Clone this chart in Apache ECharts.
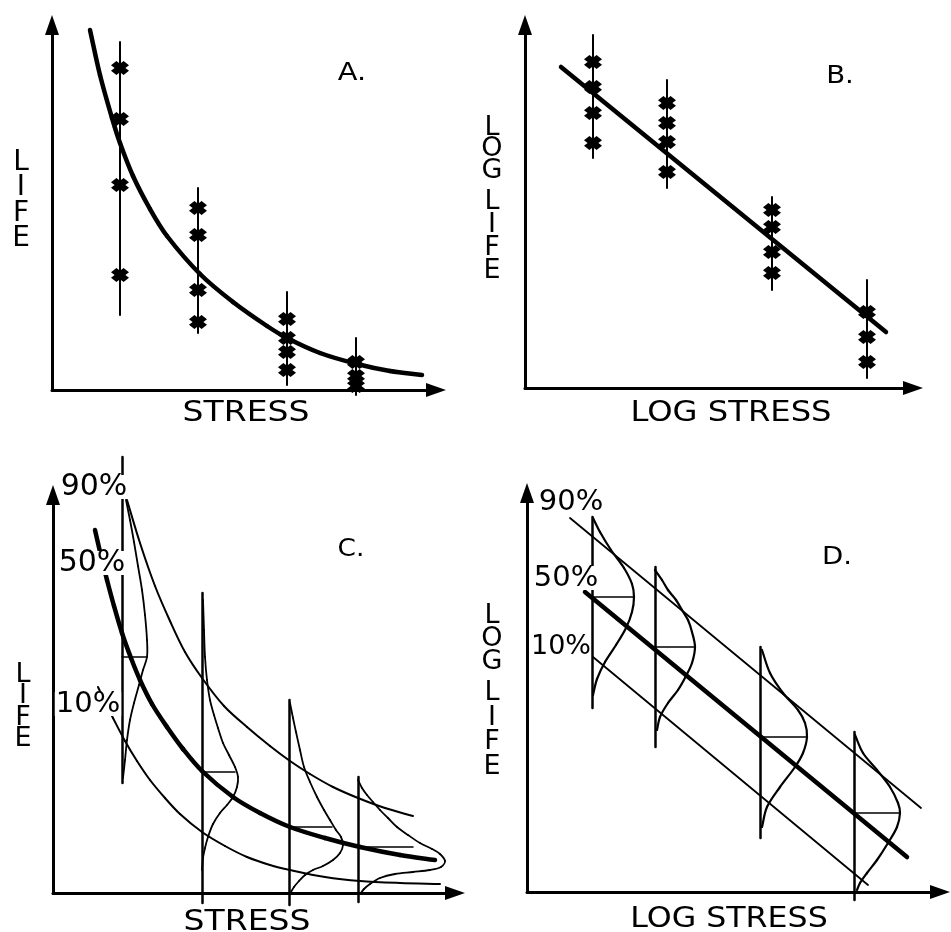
<!DOCTYPE html>
<html>
<head>
<meta charset="utf-8">
<title>Stress–life diagrams</title>
<script src="https://cdn.jsdelivr.net/npm/echarts@6/dist/echarts.min.js"></script>
<style>
  html, body { margin: 0; padding: 0; background: #fff; }
  #chart { width: 951px; height: 932px; }
</style>
</head>
<body>
<div id="chart"></div>
<script>
// ---------- A: life against stress, individual test results ----------
const curveA = [[3.8,36.0],[4.8,31.5],[6.0,27.2],[6.8,24.7],[8.1,21.4],[9.8,18.1],[11.5,15.4],[14.8,11.6],[18.1,8.8],[21.5,6.4],[23.5,5.2],[26.8,3.7],[30.5,2.6],[33.8,1.9],[37.0,1.5]];
const levelsA = [6.8, 14.6, 23.5, 30.4];
const spreadA = [[7.5,34.8],[5.7,20.2],[0.5,9.8],[-0.5,5.2]];
const resultsA = [[32.2,27.1,20.5,11.5],[18.2,15.5,10.0,6.8],[7.1,5.2,3.8,2.0],[2.8,1.4,0.4]];

// ---------- B: log life against log stress, straight-line fit ----------
const fitB = [[3.6,32.1],[36.1,5.6]];
const levelsB = [6.8, 14.2, 24.7, 34.2];
const spreadB = [[23.0,35.3],[20.0,30.8],[9.8,19.1],[1.0,10.8]];
const resultsB = [[32.6,30.1,27.5,24.5],[28.5,26.5,24.6,21.6],[17.8,16.1,13.6,11.5],[7.6,5.1,2.6]];

// ---------- C: probability curves on linear scales ----------
const p90C = [[7.4,39.3],[8.7,35.0],[10.2,30.7],[11.7,27.2],[13.2,24.1],[14.9,21.5],[17.1,18.7],[19.4,16.6],[21.7,14.7],[23.7,13.2],[25.7,11.9],[28.0,10.6],[30.5,9.5],[33.2,8.5],[36.0,7.7]];
const p50C = [[4.2,36.3],[4.8,33.7],[5.4,31.3],[6.1,28.7],[6.9,26.0],[7.8,23.5],[8.7,21.3],[9.9,18.9],[11.4,16.6],[13.0,14.4],[14.9,12.2],[18.0,9.6],[20.7,8.0],[23.7,6.6],[27.2,5.5],[30.7,4.6],[34.7,3.8],[38.2,3.3]];
const p10C = [[4.5,20.6],[5.3,18.9],[6.0,17.5],[7.2,15.2],[8.4,13.2],[9.7,11.3],[11.2,9.5],[12.7,7.9],[14.9,6.1],[17.2,4.7],[19.4,3.6],[21.7,2.8],[23.7,2.3],[27.2,1.6],[30.7,1.2],[34.7,1.0],[38.7,0.9]];
const levelsC = [6.9, 14.9, 23.6, 30.5];
const spanC = [[11.0,43.6],[-1.0,30.0],[-1.2,19.3],[-0.9,11.6]];
const modeC = [[23.6,9.4],[12.1,18.2],[6.6,27.9],[4.6,36.0]];
const distC1 = [[7.3,39.3],[7.7,37.3],[8.1,35.1],[8.5,32.7],[8.9,30.3],[9.2,27.8],[9.4,25.3],[9.4,23.6],[9.0,22.3],[8.6,20.8],[8.1,19.0],[7.7,17.3],[7.4,15.3],[7.2,13.3],[7.0,11.5]];
const distC2 = [[15.0,29.3],[15.1,26.3],[15.2,23.6],[15.4,21.3],[15.7,19.3],[16.1,17.8],[16.5,16.5],[17.0,15.0],[17.6,13.8],[18.2,12.6],[18.5,11.6],[18.4,10.6],[18.0,9.6],[17.4,8.8],[16.7,8.0],[16.0,6.9],[15.5,5.6],[15.2,4.5],[15.0,3.5],[14.9,2.3]];
const distC3 = [[23.7,19.0],[24.0,17.5],[24.3,16.1],[24.7,14.3],[25.1,12.6],[25.7,11.1],[26.4,9.6],[27.1,8.3],[27.7,7.3],[28.3,6.3],[28.8,5.6],[29.0,4.8],[28.7,4.0],[28.0,3.3],[27.0,2.7],[26.0,2.3],[25.2,1.8],[24.6,1.2],[24.1,0.6],[23.8,0.1]];
const distC4 = [[30.5,11.3],[30.9,10.5],[31.4,9.8],[32.0,9.1],[32.7,8.3],[33.5,7.5],[34.4,6.6],[35.5,5.8],[36.7,5.0],[37.9,4.4],[38.7,3.9],[39.2,3.2],[38.8,2.6],[37.7,2.3],[36.0,2.1],[34.2,1.9],[32.7,1.5],[31.7,0.9],[31.1,0.4],[30.8,0.0]];

// ---------- D: probability lines on log scales ----------
const p90D = [[4.3,37.4],[39.4,8.4]];
const p50D = [[5.8,30.0],[38.0,3.5]];
const p10D = [[6.6,23.5],[34.1,0.7]];
const levelsD = [6.5, 12.8, 23.3, 32.7];
const spanD = [[18.4,37.5],[14.5,32.5],[5.4,24.5],[-0.8,16.0]];
const modeD = [[29.5,10.7],[24.5,16.8],[15.5,27.9],[7.9,37.3]];
const distD1 = [[6.6,37.4],[7.3,36.0],[8.4,34.2],[9.7,32.4],[10.5,30.8],[10.7,29.5],[10.5,28.0],[9.9,26.4],[8.9,24.7],[7.8,23.0],[7.0,21.3],[6.6,19.7]];
const distD2 = [[12.8,32.2],[13.5,31.2],[14.1,30.2],[14.9,29.2],[15.5,28.2],[16.1,27.2],[16.5,26.0],[16.8,24.5],[16.5,22.9],[15.9,21.6],[15.1,20.2],[14.1,18.9],[13.3,17.5],[13.0,16.2]];
const distD3 = [[23.5,24.2],[24.3,21.9],[25.6,19.9],[27.1,18.2],[27.8,16.9],[28.0,15.5],[27.6,13.9],[26.8,12.5],[25.3,10.5],[24.0,8.5],[23.5,6.5]];
const distD4 = [[32.8,15.7],[33.6,13.9],[35.0,12.2],[36.3,10.5],[37.1,8.9],[37.3,7.9],[37.0,6.5],[36.1,4.9],[35.0,3.2],[34.0,1.9],[33.3,0.9],[33.0,0.2]];

// axis extents of the four panels (stress, life)
const extents = [[38.4,36.5],[38.8,36.3],[40.2,39.8],[41.3,39.9]];

// ---------- helpers ----------
const INK = '#000';
const FONT = '"DejaVu Sans", "Noto Sans", sans-serif';
const CROSS = 'path://M0,3L3,0L5,2L7,0L10,3L8,5L10,7L7,10L5,8L3,10L0,7L2,5Z';

// Catmull-Rom style curve through the points, mapped with the panel's axes
function curve(pts, g, width) {
  return { type: 'custom', coordinateSystem: 'cartesian2d', xAxisIndex: g, yAxisIndex: g,
    data: pts, encode: { x: 0, y: 1 }, clip: false, silent: true, animation: false, z: 3,
    renderItem: function (params, api) {
      if (params.dataIndex !== 0) return null;
      const P = pts.map(p => api.coord(p));
      const n = P.length, k = 1 / 3;
      const cp = P.map((p, i) => {
        const a = P[Math.max(i - 1, 0)], b = P[Math.min(i + 1, n - 1)];
        const d0 = Math.hypot(p[0] - a[0], p[1] - a[1]);
        const d1 = Math.hypot(b[0] - p[0], b[1] - p[1]);
        const s = (d0 + d1) || 1;
        const tx = b[0] - a[0], ty = b[1] - a[1];
        return { back: [p[0] - tx * k * d0 / s, p[1] - ty * k * d0 / s],
                 fwd: [p[0] + tx * k * d1 / s, p[1] + ty * k * d1 / s] };
      });
      const children = [];
      for (let i = 0; i < n - 1; i++) {
        children.push({ type: 'bezierCurve',
          shape: { x1: P[i][0], y1: P[i][1], x2: P[i + 1][0], y2: P[i + 1][1],
                   cpx1: cp[i].fwd[0], cpy1: cp[i].fwd[1], cpx2: cp[i + 1].back[0], cpy2: cp[i + 1].back[1] },
          style: { stroke: INK, lineWidth: width, fill: null, lineCap: 'round' } });
      }
      return { type: 'group', children: children };
    } };
}
function segments(list, g, width) {
  return { type: 'lines', coordinateSystem: 'cartesian2d', xAxisIndex: g, yAxisIndex: g, clip: false,
    silent: true, animation: false, z: 3,
    data: list.map(c => ({ coords: c })),
    lineStyle: { color: INK, width: width, opacity: 1, curveness: 0, cap: 'round' } };
}
function crosses(levels, results, g) {
  const pts = [];
  levels.forEach((x, i) => results[i].forEach(y => pts.push([x, y])));
  return { type: 'scatter', xAxisIndex: g, yAxisIndex: g, data: pts, symbol: CROSS, symbolSize: [18, 14],
    clip: false, silent: true, animation: false, z: 4, itemStyle: { color: INK, opacity: 1 } };
}
const verticals = (levels, spans) => levels.map((x, i) => [[x, spans[i][0]], [x, spans[i][1]]]);
const ticks = (levels, modes) => levels.map((x, i) => [[x, modes[i][0]], [modes[i][1], modes[i][0]]]);

function text(str, x, y, size, extra) {
  return Object.assign({ type: 'text', x: x, y: y, z: 100, silent: true,
    style: Object.assign({ text: str, fill: INK, font: size + 'px ' + FONT,
      align: 'center', verticalAlign: 'middle', textAlign: 'center', textVerticalAlign: 'middle' }, extra && extra.style) },
    extra && extra.props);
}
function stacked(str, x, y, size, lh) {
  return { type: 'text', x: x, y: y, z: 100, silent: true,
    style: { text: str, fill: INK, font: size + 'px ' + FONT, width: 18, overflow: 'breakAll', lineHeight: lh,
      align: 'center', verticalAlign: 'top', textAlign: 'center', textVerticalAlign: 'top' } };
}
function pct(str, x, y, size, masked) {
  const style = { lineHeight: 24 };
  if (masked) { style.backgroundColor = '#fff'; style.padding = [0, 1]; }
  return text(str, x, y, size, { style: style });
}

const boxes = [
  { left: 52, top: 25, width: 384, height: 365 },
  { left: 525, top: 25, width: 388, height: 363 },
  { left: 53, top: 495, width: 402, height: 398 },
  { left: 527, top: 493, width: 413, height: 399 }
];
const axisLine = { show: true, onZero: false, symbol: ['none', 'triangle'], symbolSize: [14, 20],
  lineStyle: { color: INK, width: 3 } };
const bare = { axisTick: { show: false }, axisLabel: { show: false }, splitLine: { show: false } };
const wide = s => ({ props: { scaleX: s } });

const option = {
  backgroundColor: '#fff',
  animation: false,
  grid: boxes,
  xAxis: extents.map((e, i) => Object.assign({ type: 'value', gridIndex: i, min: 0, max: e[0], axisLine: axisLine }, bare)),
  yAxis: extents.map((e, i) => Object.assign({ type: 'value', gridIndex: i, min: 0, max: e[1], axisLine: axisLine }, bare)),
  series: [
    // A
    segments(verticals(levelsA, spreadA), 0, 2),
    curve(curveA, 0, 4.5),
    crosses(levelsA, resultsA, 0),
    // B
    segments(verticals(levelsB, spreadB), 1, 2),
    segments([fitB], 1, 4.5),
    crosses(levelsB, resultsB, 1),
    // C
    segments(verticals(levelsC, spanC), 2, 2.5),
    segments(ticks(levelsC, modeC), 2, 1.5),
    curve(p90C, 2, 2),
    curve(p50C, 2, 4.5),
    curve(p10C, 2, 2),
    curve(distC1, 2, 1.8),
    curve(distC2, 2, 1.8),
    curve(distC3, 2, 1.8),
    curve(distC4, 2, 1.8),
    // D
    segments(verticals(levelsD, spanD), 3, 2.5),
    segments(ticks(levelsD, modeD), 3, 1.5),
    segments([p90D], 3, 1.8),
    segments([p50D], 3, 4.5),
    segments([p10D], 3, 1.8),
    curve(distD1, 3, 2.2),
    curve(distD2, 3, 2.2),
    curve(distD3, 3, 2.2),
    curve(distD4, 3, 2.2)
  ],
  graphic: [
    text('A.', 352, 74, 24, wide(1.2)),
    text('B.', 840, 77, 24, wide(1.15)),
    text('C.', 351, 550, 24, wide(1.1)),
    text('D.', 837, 558, 24, wide(1.15)),
    text('STRESS', 246, 414, 28, wide(1.18)),
    text('LOG STRESS', 731, 414, 28, wide(1.15)),
    text('STRESS', 247, 923, 28, wide(1.18)),
    text('LOG STRESS', 729, 920, 28, wide(1.13)),
    stacked('LIFE', 21, 150, 28, 25.3),
    stacked('LOG', 492, 117, 27, 21.5),
    stacked('LIFE', 492, 190, 27, 23),
    stacked('LIFE', 23, 664, 27, 21.5),
    stacked('LOG', 492, 604, 27, 23),
    stacked('LIFE', 492, 681, 27, 24.5),
    pct('90%', 94, 487, 30, true),
    pct('50%', 92, 563, 30, true),
    pct('10%', 88, 704, 29, true),
    pct('90%', 571, 502, 29, false),
    pct('50%', 566, 578, 29, true),
    pct('10%', 561, 647, 27, false)
  ]
};

const chart = echarts.init(document.getElementById('chart'), null, { renderer: 'canvas' });
chart.setOption(option);
</script>
</body>
</html>
